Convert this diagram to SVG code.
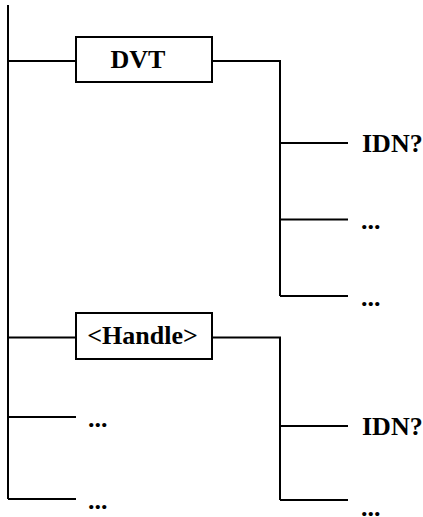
<svg xmlns="http://www.w3.org/2000/svg" width="423" height="517" viewBox="0 0 423 517">
<style>
.ln{fill:none;stroke:#000;stroke-width:2}
.box{fill:#fff;stroke:#000;stroke-width:2}
.t{font-family:"Liberation Serif","Times New Roman",serif;font-weight:bold;font-size:26px;fill:#000}
</style>
<rect width="423" height="517" fill="#fff"/>
<g id="connectors">
<path class="ln" d="M8,5 V499"/>
<path class="ln" d="M8,61 H76"/>
<path class="ln" d="M8,337.5 H76"/>
<path class="ln" d="M8,417 H76"/>
<path class="ln" d="M8,499 H76"/>
<path class="ln" d="M212,61 H280 V296"/>
<path class="ln" d="M280,143 H348"/>
<path class="ln" d="M280,219.5 H348"/>
<path class="ln" d="M280,296 H348"/>
<path class="ln" d="M212,337.5 H280 V500"/>
<path class="ln" d="M280,426 H348"/>
<path class="ln" d="M280,500 H348"/>
</g>
<g id="dvt">
<rect class="box" x="76" y="37" width="136" height="45"/>
<text class="t" x="138" y="68" text-anchor="middle">DVT</text>
</g>
<g id="handle">
<rect class="box" x="76" y="313" width="136" height="46"/>
<text class="t" x="142.5" y="344" text-anchor="middle">&lt;Handle&gt;</text>
</g>
<g id="dvt-idn"><text class="t" x="362" y="152">IDN?</text></g>
<g id="dvt-more1"><text class="t" x="361" y="229">...</text></g>
<g id="dvt-more2"><text class="t" x="361" y="305.5">...</text></g>
<g id="root-more1"><text class="t" x="88" y="426.5">...</text></g>
<g id="root-more2"><text class="t" x="88" y="508.5">...</text></g>
<g id="handle-idn"><text class="t" x="362" y="435">IDN?</text></g>
<g id="handle-more"><text class="t" x="361" y="516">...</text></g>
</svg>
